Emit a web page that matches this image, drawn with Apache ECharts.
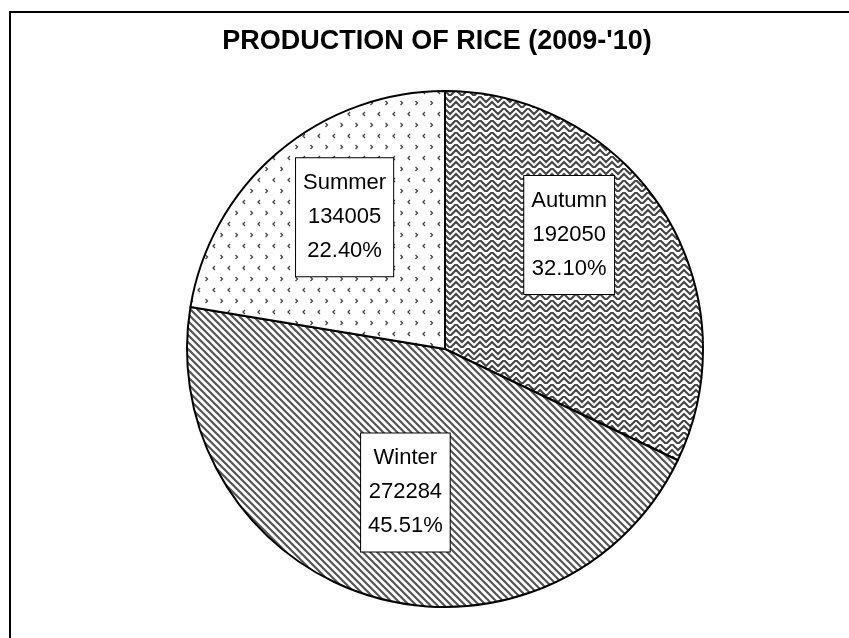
<!DOCTYPE html>
<html><head><meta charset="utf-8">
<script src="https://cdn.jsdelivr.net/npm/echarts@6/dist/echarts.min.js"></script>
<style>html,body{margin:0;padding:0;background:#fff}#c{width:849px;height:638px}</style>
</head><body><div id="c"></div>
<script>
const titleText = "PRODUCTION OF RICE (2009-'10)";
const categories = ['Autumn', 'Winter', 'Summer'];
const values = [192050, 272284, 134005];

// label offsets (styling) relative to ECharts' default inside position
const labelShift = [[12.5, -43.6], [0, 17.5], [-15, -31]];

const total = values.reduce((a, b) => a + b, 0);

function tile(w, h, draw) {
  const c = document.createElement('canvas');
  c.width = w; c.height = h;
  const g = c.getContext('2d');
  g.fillStyle = '#fff'; g.fillRect(0, 0, w, h);
  draw(g, w, h);
  return c;
}
// Autumn: weave
const autumnPat = tile(12, 12, (g) => {
  g.strokeStyle = '#444'; g.lineWidth = 2;
  g.beginPath();
  g.moveTo(-1, -1); g.lineTo(6, 6); g.lineTo(13, -1);
  g.moveTo(-1, 5); g.lineTo(3, 9);
  g.moveTo(9, 9); g.lineTo(13, 5);
  g.moveTo(3, 9); g.lineTo(6, 12); g.lineTo(9, 9);
  g.stroke();
});
// Winter: wide downward diagonal
const winterPat = tile(7, 7, (g) => {
  g.strokeStyle = '#555'; g.lineWidth = 2.2;
  g.beginPath();
  g.moveTo(-2, -2); g.lineTo(9, 9);
  g.moveTo(-2, 5); g.lineTo(2, 9);
  g.moveTo(5, -2); g.lineTo(9, 2);
  g.stroke();
});
// Summer: divots
const summerPat = tile(15, 22, (g) => {
  g.strokeStyle = '#444'; g.lineWidth = 1.3;
  g.beginPath();
  g.moveTo(5, 2); g.lineTo(3, 4); g.lineTo(5, 6);
  g.moveTo(10.5, 13); g.lineTo(12.5, 15); g.lineTo(10.5, 17);
  g.stroke();
});
const patterns = [autumnPat, winterPat, summerPat];

const chart = echarts.init(document.getElementById('c'), null, {renderer: 'canvas'});
chart.setOption({
  animation: false,
  backgroundColor: '#fff',
  title: {
    text: titleText, left: 437, top: 28, textAlign: 'center', padding: 0,
    textStyle: {fontFamily: 'Liberation Sans', fontWeight: 'bold', fontSize: 27, color: '#000'}
  },
  graphic: [{
    type: 'rect', silent: true, z: -1,
    shape: {x: 10, y: 12, width: 860, height: 660},
    style: {fill: 'none', stroke: '#000', lineWidth: 2}
  }],
  series: [{
    type: 'pie',
    center: [445, 349],
    radius: 258,
    startAngle: 90,
    clockwise: true,
    avoidLabelOverlap: false,
    emphasis: {disabled: true},
    itemStyle: {borderColor: '#000', borderWidth: 2},
    label: {
      show: true, position: 'inside',
      formatter: (p) => p.name + '\n' + p.value + '\n' + (p.value / total * 100).toFixed(2) + '%',
      fontFamily: 'Liberation Sans', fontSize: 22, lineHeight: 34, color: '#000',
      backgroundColor: '#fff', borderColor: '#000', borderWidth: 1,
      padding: [8, 7, 8, 7]
    },
    labelLine: {show: false},
    labelLayout: (p) => ({dx: labelShift[p.dataIndex][0], dy: labelShift[p.dataIndex][1]}),
    data: categories.map((n, i) => ({
      name: n, value: values[i],
      itemStyle: {color: {image: patterns[i], repeat: 'repeat'}}
    }))
  }]
});
</script>
</body></html>
